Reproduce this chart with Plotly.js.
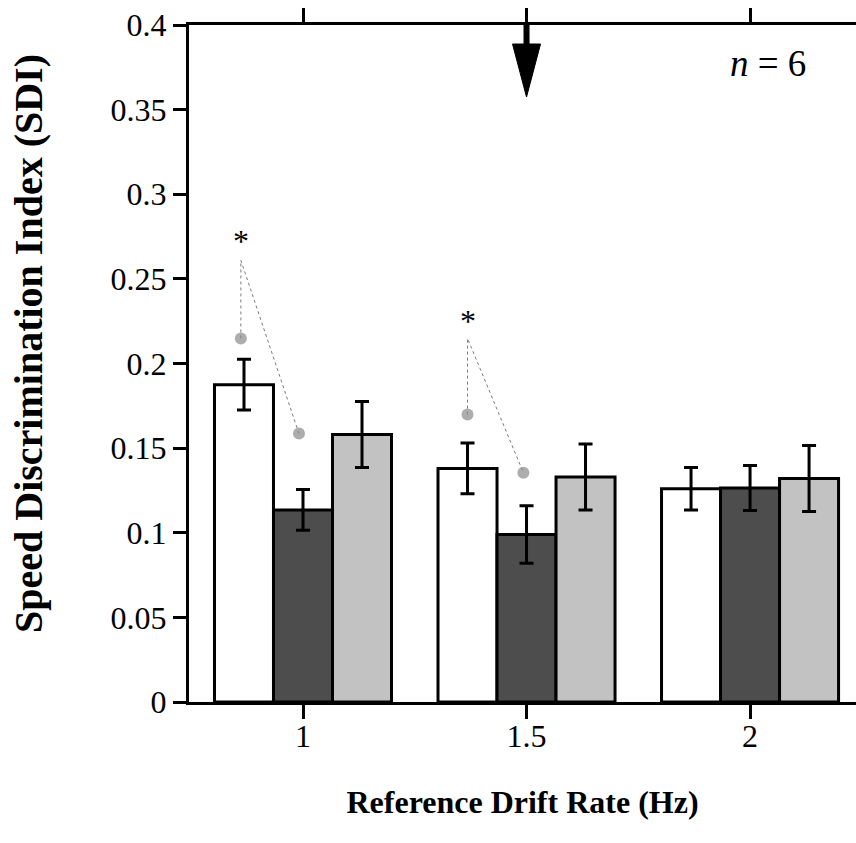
<!DOCTYPE html>
<html>
<head>
<meta charset="utf-8">
<script src="https://cdn.plot.ly/plotly-3.0.1.min.js"></script>
<style>html,body{margin:0;padding:0;background:#fff;}#chart{width:856px;height:843px;}</style>
</head>
<body>
<div id="chart"></div>
<script>
// ---- data ----
const driftRates = [1, 1.5, 2];
const xTickVals = [1, 1.5, 2];
const xTickText = ['1', '1.5', '2'];
const yTickVals = [0, 0.05, 0.1, 0.15, 0.2, 0.25, 0.3, 0.35, 0.4];
const yTickText = ['0', '0.05', '0.1', '0.15', '0.2', '0.25', '0.3', '0.35', '0.4'];

const whiteVals = [0.1875, 0.138, 0.126];
const whiteErr  = [0.015, 0.015, 0.0125];
const darkVals  = [0.1135, 0.099, 0.1265];
const darkErr   = [0.012, 0.017, 0.0133];
const lightVals = [0.158, 0.133, 0.132];
const lightErr  = [0.0195, 0.0195, 0.0195];

// significance connectors: dot -> apex -> dot
const sig1X = [0.861, 0.861, 0.991];
const sig1Y = [0.2148, 0.261, 0.1586];
const sig2X = [1.368, 1.368, 1.493];
const sig2Y = [0.1698, 0.2148, 0.1355];
const starX = [0.861, 1.368];
const starY = [0.2757, 0.2284];

const arrowX = 1.5;
const nLabel = '<i>n</i> = 6';

const FONT = 'Liberation Serif, Times New Roman, serif';

function barTrace(vals, errs, fill) {
  return {
    type: 'bar', x: driftRates, y: vals,
    marker: {color: fill, line: {color: '#000', width: 3}},
    error_y: {type: 'data', array: errs, visible: true, color: '#000', thickness: 3, width: 7},
    hoverinfo: 'x+y'
  };
}

function sigTrace(xs, ys) {
  return {
    type: 'scatter', mode: 'lines+markers', x: xs, y: ys,
    line: {color: '#7a7a7a', width: 1, dash: 'dot'},
    marker: {color: '#8a8a8a', size: xs.map((_, i) => (i === 1 ? 0 : 12)), line: {width: 0}},
    hoverinfo: 'skip'
  };
}

const traces = [
  barTrace(whiteVals, whiteErr, '#ffffff'),
  barTrace(darkVals, darkErr, '#4d4d4d'),
  barTrace(lightVals, lightErr, '#c2c2c2'),
  sigTrace(sig1X, sig1Y),
  sigTrace(sig2X, sig2Y)
];

const annotations = starX.map((sx, i) => ({
  x: sx, y: starY[i], xref: 'x', yref: 'y', text: '*', showarrow: false,
  font: {family: FONT, size: 32, color: '#000'}, xanchor: 'center', yanchor: 'middle', yshift: -6
}));
annotations.push({
  x: 2.04, y: 0.376, xref: 'x', yref: 'y', text: nLabel, showarrow: false,
  font: {family: FONT, size: 37, color: '#000'}, xanchor: 'center', yanchor: 'middle', yshift: 2
});

const layout = {
  width: 856, height: 843,
  margin: {l: 189, r: 0, t: 25, b: 141},
  paper_bgcolor: '#fff', plot_bgcolor: '#fff',
  showlegend: false,
  barmode: 'group', bargap: 0.208, bargroupgap: 0,
  font: {family: FONT, color: '#000'},
  xaxis: {
    range: [0.745, 2.237], tickvals: xTickVals, ticktext: xTickText,
    showline: true, linecolor: '#000', linewidth: 3, mirror: 'ticks',
    ticks: 'outside', ticklen: 14, tickwidth: 3, tickcolor: '#000',
    ticklabelstandoff: -10,
    showgrid: false, zeroline: false,
    tickfont: {family: FONT, size: 32, color: '#000'},
    title: {text: '<b>Reference Drift Rate (Hz)</b>', font: {family: FONT, size: 32, color: '#000'}, standoff: 38}
  },
  yaxis: {
    range: [0, 0.4], tickvals: yTickVals, ticktext: yTickText,
    showline: true, linecolor: '#000', linewidth: 3,
    ticks: 'outside', ticklen: 13, tickwidth: 3, tickcolor: '#000',
    showgrid: false, zeroline: false,
    tickfont: {family: FONT, size: 32, color: '#000'},
    title: {text: '&nbsp;&nbsp;&nbsp;&nbsp;<b>Speed Discrimination Index (SDI)</b>', font: {family: FONT, size: 40, color: '#000'}, standoff: 56}
  },
  shapes: [{
    type: 'path', xref: 'x', yref: 'paper', xsizemode: 'pixel', ysizemode: 'pixel',
    xanchor: arrowX, yanchor: 1,
    path: 'M -2.5 0 L 2.5 0 L 2.5 -19 L 14 -19 L 0 -72 L -14 -19 L -2.5 -19 Z',
    fillcolor: '#000', line: {color: '#000', width: 1}, layer: 'above'
  }],
  annotations: annotations
};

Plotly.newPlot('chart', traces, layout, {displayModeBar: false, staticPlot: true});
</script>
</body>
</html>
